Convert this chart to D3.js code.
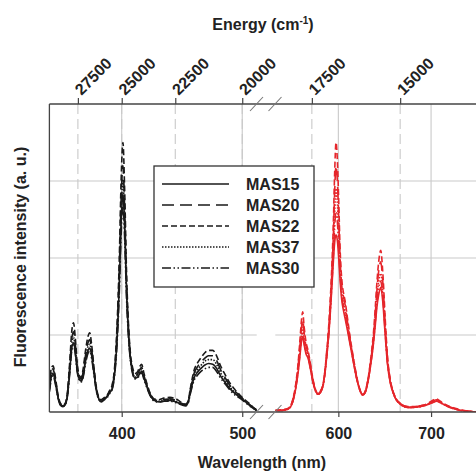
<!DOCTYPE html>
<html>
<head>
<meta charset="utf-8">
<script src="https://cdn.jsdelivr.net/npm/d3@7"></script>
<style>
  html, body { margin: 0; padding: 0; background: #fff; }
  svg { display: block; }
  text { font-family: "Liberation Sans", Arial, sans-serif; font-weight: bold; fill: #222; }
</style>
</head>
<body>
<svg id="chart" width="476" height="473"></svg>
<script>
// ---- Data -----------------------------------------------------------------
const seriesNames = ["MAS15", "MAS20", "MAS22", "MAS37", "MAS30"];

// Emission below the axis break (nm)
const wlLeft = [
  340, 341.5, 343, 345, 347, 349, 351, 353, 355, 357,
  358.5, 360, 361.5, 363, 365, 366.5, 368, 370, 372, 373.5,
  375, 377, 379, 381, 383, 385, 388, 390, 392, 394,
  396, 398, 399.5, 401, 402.5, 404, 405.5, 407, 409, 411,
  413, 415, 416.5, 418.5, 421.5, 424, 427, 431, 435, 440,
  445, 450, 453, 455, 457, 460, 463, 466, 469, 472,
  475.5, 479, 482, 486, 490, 494, 498, 502, 506, 509,
  512
];
const leftMAS15 = [
  0.28, 0.45, 0.50, 0.38, 0.20, 0.10, 0.07, 0.09, 0.22, 0.55,
  0.82, 0.90, 0.78, 0.55, 0.42, 0.40, 0.47, 0.66, 0.80, 0.83,
  0.74, 0.50, 0.28, 0.17, 0.14, 0.16, 0.20, 0.25, 0.30, 0.48,
  0.90, 1.65, 2.45, 2.85, 2.35, 1.55, 1.05, 0.72, 0.52, 0.44,
  0.45, 0.50, 0.53, 0.44, 0.30, 0.21, 0.15, 0.13, 0.14, 0.15,
  0.13, 0.10, 0.09, 0.12, 0.26, 0.44, 0.52, 0.57, 0.61, 0.63,
  0.62, 0.56, 0.47, 0.38, 0.30, 0.24, 0.19, 0.14, 0.09, 0.05,
  0.02
];
const leftMAS20 = [
  0.32, 0.52, 0.56, 0.42, 0.22, 0.11, 0.08, 0.10, 0.24, 0.62,
  0.94, 1.04, 0.88, 0.60, 0.45, 0.43, 0.52, 0.74, 0.90, 0.94,
  0.82, 0.55, 0.30, 0.18, 0.15, 0.17, 0.21, 0.27, 0.33, 0.52,
  1.00, 1.85, 2.75, 3.20, 2.60, 1.70, 1.12, 0.76, 0.55, 0.47,
  0.49, 0.55, 0.58, 0.47, 0.32, 0.22, 0.16, 0.15, 0.16, 0.17,
  0.15, 0.11, 0.10, 0.13, 0.29, 0.50, 0.59, 0.65, 0.70, 0.73,
  0.73, 0.66, 0.55, 0.44, 0.34, 0.27, 0.21, 0.15, 0.10, 0.06,
  0.03
];
const leftMAS22 = [
  0.35, 0.56, 0.60, 0.45, 0.23, 0.12, 0.09, 0.11, 0.26, 0.68,
  1.04, 1.16, 0.96, 0.64, 0.47, 0.45, 0.56, 0.80, 0.98, 1.03,
  0.88, 0.58, 0.32, 0.19, 0.16, 0.18, 0.22, 0.28, 0.35, 0.56,
  1.08, 2.00, 3.00, 3.50, 2.85, 1.82, 1.18, 0.80, 0.58, 0.50,
  0.52, 0.59, 0.62, 0.50, 0.34, 0.23, 0.17, 0.16, 0.18, 0.19,
  0.17, 0.12, 0.10, 0.14, 0.31, 0.54, 0.64, 0.71, 0.77, 0.80,
  0.80, 0.72, 0.60, 0.48, 0.37, 0.29, 0.22, 0.16, 0.11, 0.06,
  0.03
];
const leftMAS37 = [
  0.30, 0.48, 0.53, 0.40, 0.21, 0.10, 0.08, 0.10, 0.23, 0.58,
  0.88, 0.97, 0.83, 0.57, 0.43, 0.41, 0.49, 0.70, 0.85, 0.88,
  0.78, 0.52, 0.29, 0.17, 0.14, 0.16, 0.20, 0.26, 0.31, 0.50,
  0.95, 1.75, 2.60, 3.02, 2.48, 1.62, 1.08, 0.74, 0.53, 0.45,
  0.47, 0.52, 0.55, 0.45, 0.31, 0.21, 0.15, 0.14, 0.15, 0.16,
  0.14, 0.10, 0.09, 0.12, 0.27, 0.47, 0.55, 0.61, 0.66, 0.68,
  0.68, 0.61, 0.51, 0.41, 0.32, 0.25, 0.20, 0.14, 0.09, 0.05,
  0.02
];
const leftMAS30 = [
  0.26, 0.42, 0.47, 0.36, 0.19, 0.09, 0.07, 0.09, 0.21, 0.52,
  0.79, 0.87, 0.75, 0.53, 0.41, 0.39, 0.45, 0.63, 0.76, 0.79,
  0.70, 0.48, 0.27, 0.16, 0.13, 0.15, 0.19, 0.24, 0.29, 0.46,
  0.85, 1.55, 2.30, 2.70, 2.22, 1.48, 1.00, 0.70, 0.50, 0.43,
  0.44, 0.48, 0.51, 0.42, 0.29, 0.20, 0.14, 0.13, 0.14, 0.14,
  0.12, 0.09, 0.08, 0.11, 0.24, 0.41, 0.48, 0.53, 0.56, 0.58,
  0.58, 0.52, 0.44, 0.36, 0.28, 0.22, 0.18, 0.13, 0.08, 0.05,
  0.02
];

// Emission above the axis break (nm)
const wlRight = [
  532, 538, 544, 548, 551, 554, 556.5, 558.5, 560.3, 561.6,
  563, 565, 567.3, 570, 572.7, 575.5, 578, 581, 583.8, 585.7,
  587.5, 589.5, 591, 593, 594.6, 596, 597.5, 599, 600.5, 601.8,
  603.7, 605.5, 607.2, 609.5, 612.6, 616, 620, 623, 626.3, 629.5,
  632.4, 635, 637.8, 639.8, 641.4, 643.5, 645.7, 648, 650.5, 653,
  656, 659, 663, 667, 674, 680, 688, 695, 699, 703,
  706, 710, 715, 720, 726, 732, 740, 750, 760
];
const rightMAS15 = [
  0.02, 0.02, 0.03, 0.06, 0.14, 0.30, 0.50, 0.72, 0.92, 0.98,
  0.88, 0.76, 0.70, 0.55, 0.38, 0.27, 0.23, 0.26, 0.36, 0.52,
  0.72, 0.98, 1.22, 1.62, 1.95, 2.20, 2.30, 2.22, 1.98, 1.72,
  1.45, 1.32, 1.22, 1.08, 0.88, 0.66, 0.42, 0.29, 0.22, 0.27,
  0.42, 0.62, 0.88, 1.12, 1.34, 1.52, 1.62, 1.42, 1.00, 0.62,
  0.38, 0.25, 0.15, 0.10, 0.06, 0.06, 0.07, 0.09, 0.11, 0.13,
  0.14, 0.12, 0.09, 0.06, 0.04, 0.02, 0.01, 0.00, 0.00
];
const rightMAS20 = [
  0.02, 0.02, 0.04, 0.07, 0.16, 0.34, 0.58, 0.85, 1.10, 1.20,
  1.04, 0.86, 0.77, 0.60, 0.41, 0.28, 0.24, 0.27, 0.37, 0.54,
  0.77, 1.05, 1.33, 1.80, 2.28, 2.85, 3.20, 2.98, 2.50, 2.02,
  1.64, 1.50, 1.40, 1.20, 0.95, 0.70, 0.44, 0.30, 0.23, 0.28,
  0.45, 0.67, 0.97, 1.27, 1.55, 1.83, 1.95, 1.68, 1.15, 0.69,
  0.41, 0.26, 0.16, 0.11, 0.07, 0.06, 0.08, 0.10, 0.12, 0.15,
  0.16, 0.13, 0.10, 0.07, 0.04, 0.02, 0.01, 0.00, 0.00
];
const rightMAS22 = [
  0.02, 0.03, 0.04, 0.07, 0.17, 0.36, 0.62, 0.92, 1.20, 1.30,
  1.12, 0.92, 0.80, 0.62, 0.42, 0.29, 0.24, 0.28, 0.38, 0.56,
  0.80, 1.10, 1.40, 1.90, 2.45, 3.10, 3.50, 3.25, 2.70, 2.15,
  1.72, 1.55, 1.45, 1.25, 0.98, 0.72, 0.45, 0.30, 0.23, 0.29,
  0.46, 0.70, 1.02, 1.35, 1.65, 1.95, 2.10, 1.80, 1.22, 0.72,
  0.42, 0.27, 0.16, 0.11, 0.07, 0.07, 0.08, 0.10, 0.13, 0.16,
  0.17, 0.14, 0.10, 0.07, 0.05, 0.03, 0.01, 0.00, 0.00
];
const rightMAS37 = [
  0.02, 0.02, 0.03, 0.06, 0.15, 0.32, 0.54, 0.79, 1.02, 1.10,
  0.96, 0.81, 0.74, 0.57, 0.39, 0.27, 0.23, 0.27, 0.36, 0.53,
  0.74, 1.01, 1.28, 1.72, 2.12, 2.58, 2.90, 2.70, 2.28, 1.88,
  1.56, 1.42, 1.32, 1.14, 0.92, 0.68, 0.43, 0.29, 0.22, 0.28,
  0.44, 0.65, 0.93, 1.20, 1.45, 1.70, 1.80, 1.56, 1.08, 0.66,
  0.40, 0.26, 0.15, 0.10, 0.06, 0.06, 0.07, 0.09, 0.12, 0.14,
  0.15, 0.13, 0.09, 0.06, 0.04, 0.02, 0.01, 0.00, 0.00
];
const rightMAS30 = [
  0.02, 0.02, 0.03, 0.06, 0.14, 0.31, 0.52, 0.75, 0.97, 1.04,
  0.92, 0.78, 0.72, 0.56, 0.39, 0.27, 0.23, 0.26, 0.36, 0.52,
  0.73, 0.99, 1.25, 1.66, 2.02, 2.40, 2.60, 2.46, 2.12, 1.80,
  1.50, 1.37, 1.27, 1.11, 0.90, 0.67, 0.42, 0.29, 0.22, 0.27,
  0.43, 0.63, 0.90, 1.16, 1.39, 1.61, 1.70, 1.48, 1.04, 0.64,
  0.39, 0.25, 0.15, 0.10, 0.06, 0.06, 0.07, 0.09, 0.11, 0.13,
  0.15, 0.12, 0.09, 0.06, 0.04, 0.02, 0.01, 0.00, 0.00
];

// Axis ticks
const wavelengthTicksLeft = [400, 500];
const wavelengthTicksRight = [600, 700];
const energyTicksLeft = [27500, 25000, 22500, 20000];
const energyTicksRight = [17500, 15000];
const intensityGrid = [1, 2, 3];

// ---- Layout & styles ---------------------------------------------------
const plotTop = 104, plotBottom = 412, leftEdge = 49.4, rightEdge = 476;
const lineDash = ["none", "12,6", "6,3", "1.5,1.5", "9,2.5,1.5,2.5,1.5,2.5"];
const black = "#1a1a1a", red = "#e5262b", gridColor = "#c9c9c9", frameColor = "#444";

const svg = d3.select("#chart");

const xLeft = d3.scaleLinear().domain([340, 512]).range([leftEdge, 256.7]);
const xRight = d3.scaleLinear().domain([532, 760]).range([275.3, 486.7]);
const y = d3.scaleLinear().domain([0, 4]).range([plotBottom, plotTop]);

const leftSeries = [leftMAS15, leftMAS20, leftMAS22, leftMAS37, leftMAS30];
const rightSeries = [rightMAS15, rightMAS20, rightMAS22, rightMAS37, rightMAS30];

// clip regions for each side of the break
const defs = svg.append("defs");
defs.append("clipPath").attr("id", "clipL").append("rect")
  .attr("x", xLeft.range()[0]).attr("y", plotTop)
  .attr("width", xLeft.range()[1] - xLeft.range()[0]).attr("height", plotBottom - plotTop);
defs.append("clipPath").attr("id", "clipR").append("rect")
  .attr("x", xRight.range()[0]).attr("y", plotTop)
  .attr("width", rightEdge - xRight.range()[0]).attr("height", plotBottom - plotTop);

// ---- Gridlines ------------------------------------------------------------
const grid = svg.append("g");
[[xLeft, energyTicksLeft], [xRight, energyTicksRight]].forEach(([sx, ticks]) => {
  grid.selectAll(null).data(ticks).enter().append("line")
    .attr("x1", d => sx(1e7 / d)).attr("x2", d => sx(1e7 / d))
    .attr("y1", plotTop).attr("y2", plotBottom)
    .attr("stroke", gridColor).attr("stroke-width", 1.1).attr("stroke-dasharray", "10,5");
});
[[xLeft, wavelengthTicksLeft], [xRight, wavelengthTicksRight]].forEach(([sx, ticks]) => {
  grid.selectAll(null).data(ticks).enter().append("line")
    .attr("x1", d => sx(d)).attr("x2", d => sx(d))
    .attr("y1", plotTop).attr("y2", plotBottom)
    .attr("stroke", gridColor).attr("stroke-width", 1.1);
});
[[xLeft.range()[0], xLeft.range()[1]], [xRight.range()[0], rightEdge]].forEach(([a, b]) => {
  grid.selectAll(null).data(intensityGrid).enter().append("line")
    .attr("x1", a).attr("x2", b)
    .attr("y1", d => y(d)).attr("y2", d => y(d))
    .attr("stroke", gridColor).attr("stroke-width", 1.1);
});

// ---- Spectra --------------------------------------------------------------
function drawSide(wl, series, sx, color, clipId) {
  const g = svg.append("g").attr("clip-path", `url(#${clipId})`);
  series.forEach((vals, i) => {
    const pts = wl.map((w, k) => [w, vals[k]]);
    const line = d3.line().x(d => sx(d[0])).y(d => y(d[1])).curve(d3.curveMonotoneX);
    g.append("path").datum(pts)
      .attr("d", line)
      .attr("fill", "none")
      .attr("stroke", color)
      .attr("stroke-width", 1.6)
      .attr("stroke-dasharray", lineDash[i]);
  });
}
drawSide(wlLeft, leftSeries, xLeft, black, "clipL");
drawSide(wlRight, rightSeries, xRight, red, "clipR");

// ---- Frame ---------------------------------------------------------------
const frame = svg.append("g").attr("stroke", frameColor).attr("stroke-width", 1.3);
frame.append("line").attr("x1", leftEdge).attr("x2", rightEdge).attr("y1", plotTop).attr("y2", plotTop);
frame.append("line").attr("x1", leftEdge).attr("x2", rightEdge).attr("y1", plotBottom).attr("y2", plotBottom);
frame.append("line").attr("x1", leftEdge).attr("x2", leftEdge).attr("y1", plotTop).attr("y2", plotBottom);

// axis-break marks
const breakX = [256.5, 275];
[plotTop, plotBottom].forEach(yy => {
  breakX.forEach(bx => {
    frame.append("line")
      .attr("x1", bx - 6.5).attr("y1", yy + 7)
      .attr("x2", bx + 6.5).attr("y2", yy - 7)
      .attr("stroke", "#777").attr("stroke-width", 1.1);
  });
});

// ---- Axes ----------------------------------------------------------------
function styleAxis(g) {
  g.select(".domain").remove();
  g.selectAll(".tick line").attr("stroke", frameColor).attr("stroke-width", 1.2);
  g.selectAll(".tick text").attr("font-size", 16).attr("font-family", null).attr("fill", "#222");
}

[[xLeft, wavelengthTicksLeft], [xRight, wavelengthTicksRight]].forEach(([sx, ticks]) => {
  svg.append("g").attr("transform", `translate(0,${plotBottom})`)
    .call(d3.axisBottom(sx).tickValues(ticks).tickFormat(d3.format("d")).tickSize(5).tickPadding(11))
    .call(styleAxis);
});

[[xLeft, energyTicksLeft], [xRight, energyTicksRight]].forEach(([sx, ticks]) => {
  const g = svg.append("g").attr("transform", `translate(0,${plotTop})`)
    .call(d3.axisTop(sx).tickValues(ticks.map(e => 1e7 / e))
      .tickFormat(w => String(Math.round(1e7 / w / 100) * 100)).tickSize(6))
    .call(styleAxis);
  g.selectAll(".tick text")
    .attr("x", 0).attr("y", 0).attr("dy", 0)
    .attr("text-anchor", "start")
    .attr("transform", "translate(3,-8) rotate(-45)");
});

// ---- Titles --------------------------------------------------------------
const energyTitle = svg.append("text").attr("x", 263).attr("y", 30)
  .attr("text-anchor", "middle").attr("font-size", 16);
energyTitle.append("tspan").text("Energy (cm");
energyTitle.append("tspan").attr("dy", -6).attr("font-size", 10).text("-1");
energyTitle.append("tspan").attr("dy", 6).text(")");

svg.append("text").attr("x", 262).attr("y", 468)
  .attr("text-anchor", "middle").attr("font-size", 16).text("Wavelength (nm)");

svg.append("text").attr("transform", "translate(26,257) rotate(-90)")
  .attr("text-anchor", "middle").attr("font-size", 16).text("Fluorescence intensity (a. u.)");

// ---- Legend --------------------------------------------------------------
const legend = svg.append("g");
legend.append("rect").attr("x", 154).attr("y", 166).attr("width", 160).attr("height", 121)
  .attr("fill", "#fff").attr("stroke", "#333").attr("stroke-width", 1.3);
seriesNames.forEach((name, i) => {
  const ly = 184 + i * 21;
  legend.append("line").attr("x1", 162).attr("x2", 229).attr("y1", ly).attr("y2", ly)
    .attr("stroke", black).attr("stroke-width", 1.4).attr("stroke-dasharray", lineDash[i]);
  legend.append("text").attr("x", 246).attr("y", ly + 6).attr("font-size", 16).text(name);
});
</script>
</body>
</html>
